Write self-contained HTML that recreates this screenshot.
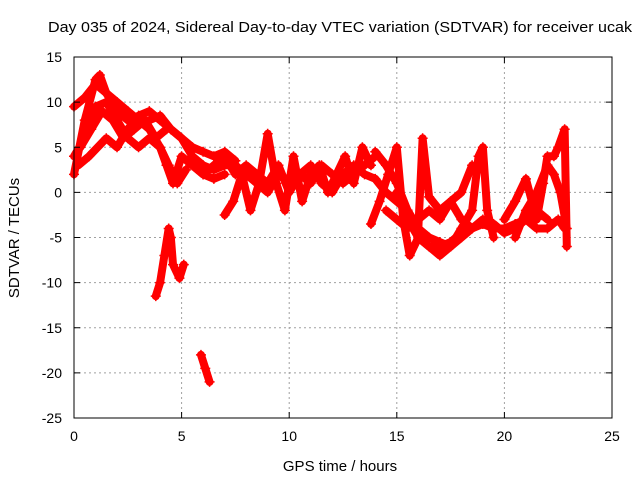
<!DOCTYPE html>
<html><head><meta charset="utf-8"><style>
body{margin:0;background:#fff;width:640px;height:480px;overflow:hidden}
svg text{font-family:"Liberation Sans",sans-serif;font-size:14px;fill:#000}
svg text.big{font-size:15px}
</style></head><body>
<svg id="chart" width="640" height="480" xmlns="http://www.w3.org/2000/svg">
<text class="big" x="340" y="32" text-anchor="middle" textLength="584" lengthAdjust="spacingAndGlyphs">Day 035 of 2024, Sidereal Day-to-day VTEC variation (SDTVAR) for receiver ucak</text>
<text class="big" x="340" y="471" text-anchor="middle">GPS time / hours</text>
<text class="big" transform="translate(19,238) rotate(-90)" text-anchor="middle">SDTVAR / TECUs</text>
<g id="grid"></g><g id="marks"></g><g id="axes"></g>
</svg>
<script>
const xTicks=[0,5,10,15,20,25];
const yTicks=[15,10,5,0,-5,-10,-15,-20,-25];
const track1X=[0,0.5,1,1.2,1.5,2,2.5,3,3.5,4,4.5,5,5.5,6,6.5,7,7.5,8,8.5,9,9.5,10,10.5,11,11.5,12,12.5,13,13.5,14,14.5,15,15.5,16,16.5,17,17.5,18,18.5,19,19.5,20,20.5,21,21.5,22,22.5,22.8];
const track1Y=[2,8,12.5,13,11,9,8,7.5,8,8.5,7,6,4,3,2.5,3,3,2,1,0,2,1,2,3,1,0,2,3,2,1.5,0,-1,-2,-4,-5,-5.5,-6,-5,-4,-3.5,-4,-4,-3.5,-3,-4,-4,-3,-4];
const track2X=[0,0.5,1,1.5,2,2.5,3,3.5,4,4.3,4.6,5,5.5,6,6.5,7];
const track2Y=[4,6,9.5,10,8,6,5,6,5,3,1,4,3,2,1.5,2];
const track3X=[0,0.5,1,1.5,2,2.5,3,3.5,4,4.4,4.8,5.2];
const track3Y=[9.5,10.5,12,11,10,9,8,7,5,3,1,2.5];
const track4X=[0.2,0.7,1.5,2,2.5,3,3.5,4,4.5,5,5.5,6,6.5,7,7.5];
const track4Y=[3,4,6,5,7,8.5,9,8,7,6,5,4.5,4,4.5,3.5];
const track5X=[3.8,4,4.2,4.4,4.5,4.6,4.9,5.1];
const track5Y=[-11.5,-10,-7,-4,-5,-8,-9.5,-8];
const track6X=[5.9,6.1,6.3];
const track6Y=[-18,-19.5,-21];
const track7X=[7,7.4,7.8,8.2,8.6,9,9.4,9.8,10.2,10.6,11,11.4,11.8,12.2,12.6,13,13.4,13.8];
const track7Y=[-2.5,-1,2,-2,1,6.5,1,-2,4,-1,2,3,0,2,4,1,5,3];
const track8X=[13.8,14.2,14.6,15,15.3,15.6,16,16.5,17,17.5,18,18.5,18.8,19,19.2,19.5];
const track8Y=[-3.5,-1,2,5,-3,-7,-5,-6,-7,-6,-4,-2,4,5,-2,-5];
const track9X=[14,14.5,15,15.5,16,16.2,16.5,17,17.5,18,18.5];
const track9Y=[4.5,3,1,-2,-4,6,-0.5,-2,-1,0,3];
const track10X=[20,20.5,21,21.5,21.8,22,22.3,22.5,22.8,22.9];
const track10Y=[-3,-1,1.5,-3,1,4,4,5,7,-6];
const track11X=[20.5,21,21.5,22,22.3,22.6,22.9];
const track11Y=[-5,-2,0,3,2,0,-4];
const track12X=[5.5,6,6.5,7,7.5,8,8.5,9,9.5,10,10.5,11,11.5,12,12.5,13,13.5,14];
const track12Y=[3,2,3,4,2,3,2,1,3,0,2,1,3,2,1,2,3,4];
const track13X=[15,15.5,16,16.5,17,17.5,18,18.5,19,19.5,20,20.5,21,21.5,22];
const track13Y=[0,-3,-5,-6,-6,-5.5,-4.5,-4,-3,-3.5,-4.5,-4,-3,-2,-3];
const track14X=[14.5,15,15.5,16,16.5,17,17.5,18,18.5];
const track14Y=[-2,-3,-4,-3,-2,-3,-1,-3,-4];
const track15X=[0.3,0.8,1.3,1.8,2.3,2.8,3.3,3.8,4.3];
const track15Y=[5,7,9,8,6,7,8,6,7];
const tracksX=[track1X,track2X,track3X,track4X,track5X,track6X,track7X,track8X,track9X,track10X,track11X,track12X,track13X,track14X,track15X];
const tracksY=[track1Y,track2Y,track3Y,track4Y,track5Y,track6Y,track7Y,track8Y,track9Y,track10Y,track11Y,track12Y,track13Y,track14Y,track15Y];
const L=74,R=612,T=57,B=418,xMin=0,xMax=25,yMin=-25,yMax=15;
const sx=v=>L+(v-xMin)/(xMax-xMin)*(R-L);
const sy=v=>B-(v-yMin)/(yMax-yMin)*(B-T);
const NS="http://www.w3.org/2000/svg";
const grid=document.getElementById('grid'),marks=document.getElementById('marks'),axes=document.getElementById('axes');
function mk(tag,attrs,parent){const e=document.createElementNS(NS,tag);for(const k in attrs)e.setAttribute(k,attrs[k]);parent.appendChild(e);return e;}
xTicks.forEach(t=>{const x=sx(t);
 if(t>0&&t<25){const g=mk('line',{x1:x,x2:x,y1:T,y2:B,stroke:'#a0a0a0','stroke-dasharray':'2,3'},grid);
 
 }
 const a=mk('line',{x1:x,x2:x,y1:B,y2:B-6,stroke:'#000'},axes);
 
 
 const b=mk('line',{x1:x,x2:x,y1:T,y2:T+6,stroke:'#000'},axes);
 
 
 const tx=mk('text',{x:x,y:B+23,'text-anchor':'middle'},axes);tx.textContent=t;
 
 });
yTicks.forEach(t=>{const y=sy(t);
 if(t>-25&&t<15){const g=mk('line',{x1:L,x2:R,y1:y,y2:y,stroke:'#a0a0a0','stroke-dasharray':'2,3'},grid);
 
 }
 const a=mk('line',{x1:L,x2:L+6,y1:y,y2:y,stroke:'#000'},axes);
 
 
 const b=mk('line',{x1:R,x2:R-6,y1:y,y2:y,stroke:'#000'},axes);
 
 
 const tx=mk('text',{x:L-12,y:y+5,'text-anchor':'end'},axes);tx.textContent=t;
 
 });
const fr=mk('rect',{x:L,y:T,width:R-L,height:B-T,fill:'none',stroke:'#000'},axes);


tracksX.forEach((xs,i)=>{const ys=tracksY[i];
 const pl=mk('polyline',{points:xs.map((x,j)=>sx(x)+','+sy(ys[j])).join(' '),fill:'none',stroke:'#ff0000','stroke-width':8,'stroke-linejoin':'round','stroke-linecap':'round'},marks);
 
 
 xs.forEach((x,j)=>{const px=sx(x),py=sy(ys[j]);
  const p=mk('path',{d:`M${px-5},${py}h10M${px},${py-5}v10`,stroke:'#ff0000','stroke-width':1.5},marks);
  
  });});
</script>
</body></html>
